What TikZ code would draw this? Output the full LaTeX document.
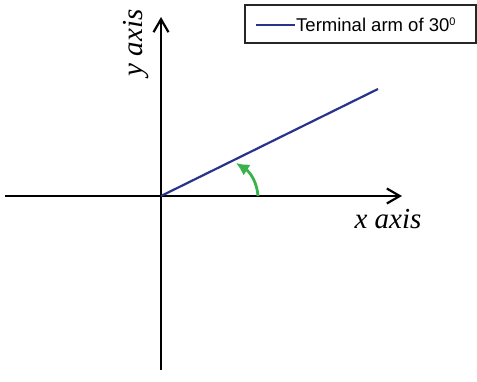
\documentclass[tikz,border=0pt]{standalone}
\usepackage{fontspec}
\setmainfont{Liberation Serif}
\newfontfamily\legfont{Liberation Sans}
\usetikzlibrary{arrows.meta}
\definecolor{armblue}{RGB}{40,52,140}
\definecolor{arcgreen}{RGB}{58,178,74}
\tikzset{
  axisline/.style={line width=2.4pt, black, -{Straight Barb[length=13pt,width=15pt,line width=2.2pt]}},
  plainaxis/.style={line width=2.4pt, black},
  armline/.style={line width=2.2pt, armblue},
  anglearrow/.style={line width=2.8pt, arcgreen, -{Latex[length=13pt,width=13pt]}},
  axislabel/.style={font=\itshape\fontsize{29}{32}\selectfont, inner sep=0pt},
  legendbox/.style={draw=black!85, line width=1.3pt, fill=white},
}
\begin{document}
\begin{tikzpicture}[x=1pt,y=-1pt]
\useasboundingbox (0,0) rectangle (477,381);
\coordinate (O) at (161,196);
\coordinate (xl) at (5,196);
\coordinate (xr) at (402,196);
\coordinate (yb) at (161,370);
\coordinate (yt) at (161,17);
\coordinate (A) at (378,89);
\coordinate (gs) at (258,196);
\coordinate (ge) at (236,163);
\draw[plainaxis] (xl) -- (O);
\draw[axisline] (O) -- (xr);
\draw[plainaxis] (yb) -- (O);
\draw[axisline] (O) -- (yt);
\draw[armline] (O) -- (A);
\draw[anglearrow] (gs) .. controls (257,182) and (250,172) .. (ge);
\node[axislabel] (xlab) at (388,219) {x axis};
\node[axislabel, rotate=90] (ylab) at (136,43) {y axis};
\draw[legendbox] (245,5) rectangle (476,43);
\coordinate (l1) at (256,25);
\coordinate (l2) at (295,25);
\draw[armline] (l1) -- (l2);
\node[anchor=west, inner sep=0pt, font=\legfont\fontsize{18.5}{20}\selectfont] (leg) at (296,25) {Terminal arm of 30\raisebox{6pt}{\fontsize{11}{12}\selectfont 0}};
\end{tikzpicture}
\end{document}
